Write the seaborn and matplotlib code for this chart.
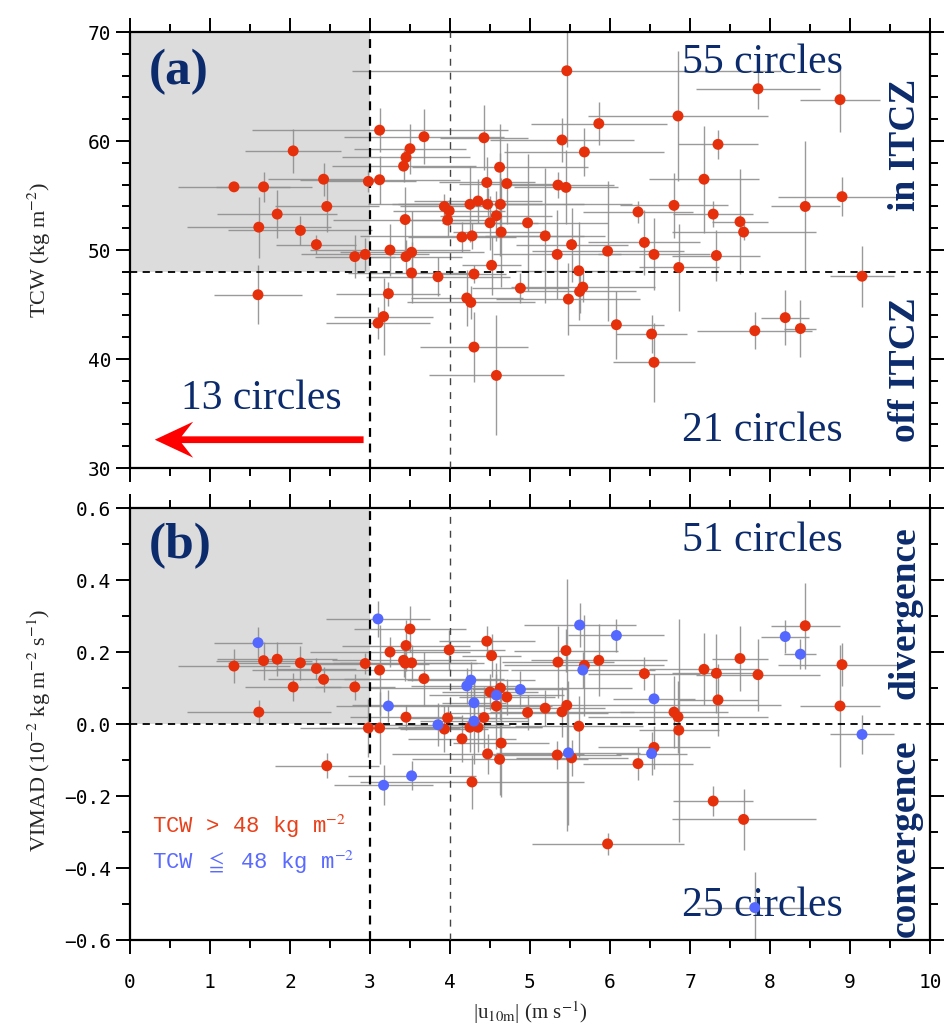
import numpy as np
import pandas as pd
import matplotlib
matplotlib.use("Agg")
import matplotlib.pyplot as plt
import seaborn as sns
from matplotlib.ticker import MultipleLocator, FuncFormatter

# ---------------- data (one entry per circle, shared by both panels) ----------------
u10 = [1.30, 1.67, 1.61, 2.04, 1.84, 2.13, 2.33, 2.42, 2.46, 2.81, 2.94, 2.98, 1.60,
       3.12, 3.675, 4.425, 5.86, 5.40, 5.68, 3.50, 3.45, 3.42, 4.62, 3.12, 4.46, 4.71,
       5.35, 5.45, 3.93, 3.99, 4.25, 4.35, 4.47, 4.63, 4.58, 4.50, 3.97, 3.44, 4.97,
       6.35, 4.64, 4.15, 4.275, 5.19, 5.52, 5.34, 5.97, 6.43, 6.55, 3.25, 3.52, 3.45,
       4.52, 5.61, 5.46, 7.85, 8.875, 6.85, 7.35, 7.175, 8.90, 8.44, 6.80, 7.29, 7.625,
       7.67, 7.33, 6.86,
       3.52, 3.85, 4.30, 4.88, 3.23, 4.21, 4.26, 5.48, 5.66, 5.62, 3.17, 3.10, 6.08,
       6.52, 4.30, 9.15, 6.55, 7.81, 8.19, 8.38, 4.58]
u10_err = [0.70, 0.60, 0.90, 0.60, 0.75, 0.90, 0.50, 0.70, 0.65, 0.50, 0.80, 0.60, 0.55,
           1.60, 1.00, 0.55, 0.85, 0.90, 1.00, 0.70, 0.80, 0.90, 1.10, 1.00, 0.60, 0.60,
           0.70, 0.65, 0.55, 0.70, 0.90, 0.80, 1.20, 1.65, 0.70, 0.60, 0.60, 0.90, 1.00,
           0.69, 0.60, 0.68, 1.40, 0.75, 0.70, 0.80, 0.95, 0.70, 0.70, 1.00, 0.90, 0.70,
           0.37, 0.80, 2.68, 0.78, 0.50, 1.13, 0.50, 0.69, 0.80, 0.43, 0.68, 0.50, 0.35,
           0.90, 0.55, 0.50,
           0.80, 0.90, 0.40, 0.60, 0.65, 0.70, 0.80, 0.90, 0.90, 0.70, 0.62, 0.65, 0.60,
           0.44, 0.67, 0.40, 0.51, 0.72, 0.30, 0.20, 0.84]
tcw = [55.8, 55.8, 52.1, 59.1, 53.3, 51.8, 50.5, 56.5, 54.0, 49.4, 49.6, 56.3, 45.9,
       61.0, 60.4, 60.3, 61.6, 60.1, 59.0, 59.3, 58.5, 57.7, 57.6, 56.45, 56.2, 56.1,
       55.96, 55.75, 54.0, 53.6, 54.2, 54.5, 54.2, 54.2, 53.15, 52.5, 52.75, 52.8, 52.5,
       53.5, 51.65, 51.2, 51.3, 51.3, 50.5, 49.6, 49.9, 50.7, 49.6, 50.0, 49.8, 49.4,
       48.6, 48.1, 66.45, 64.8, 63.8, 62.3, 59.7, 56.5, 54.9, 54.0, 54.1, 53.3, 52.6,
       51.65, 49.5, 48.4,
       47.9, 47.55, 47.8, 46.5, 46.0, 45.6, 45.2, 45.5, 46.6, 46.2, 43.9, 43.3, 43.15,
       42.3, 41.1, 47.6, 39.7, 42.6, 43.8, 42.8, 38.5]
tcw_err = [0.4, 1.4, 2.8, 2.0, 2.2, 1.3, 0.9, 1.5, 2.3, 2.0, 1.5, 1.0, 2.7,
           2.0, 2.5, 3.0, 2.0, 2.0, 2.2, 2.3, 1.0, 1.5, 4.0, 2.2, 2.3, 3.7,
           1.2, 3.4, 1.1, 1.0, 3.5, 2.0, 1.5, 4.7, 2.3, 2.5, 1.5, 3.0, 6.3,
           1.0, 5.0, 1.4, 1.2, 6.2, 3.4, 4.1, 6.4, 3.0, 3.3, 2.4, 3.8, 1.5,
           2.7, 4.5, 7.0, 1.9, 3.0, 6.0, 1.3, 4.9, 1.8, 6.0, 3.0, 1.2, 4.8,
           0.7, 2.3, 4.0,
           2.8, 1.8, 0.8, 1.4, 1.1, 2.6, 1.5, 3.3, 1.4, 2.0, 3.5, 1.5, 3.1,
           1.7, 3.2, 2.8, 3.6, 1.7, 2.5, 2.6, 5.5]
vimad = [0.161, 0.176, 0.033, 0.103, 0.180, 0.170, 0.154, 0.124, -0.116, 0.103, 0.168, -0.011, 0.226,
         0.150, 0.126, 0.018, 0.177, 0.034, 0.163, 0.264, 0.218, 0.177, -0.098, -0.011, 0.230, 0.075,
         0.172, 0.204, -0.014, 0.206, -0.009, -0.009, -0.083, 0.100, 0.050, 0.089, 0.017, 0.169, 0.032,
         -0.110, -0.053, -0.041, -0.161, 0.044, -0.094, -0.086, -0.333, 0.140, -0.065, 0.200, 0.170, 0.019,
         0.190, -0.006, 0.052, 0.137, 0.050, 0.020, 0.067, 0.152, 0.165, 0.273, 0.033, -0.214, 0.182,
         -0.265, 0.141, -0.017,
         -0.144, -0.002, 0.059, 0.096, 0.050, 0.106, 0.122, -0.080, 0.150, 0.275, -0.170, 0.292, 0.246,
         -0.082, 0.008, -0.029, 0.070, -0.510, 0.243, 0.194, 0.080]
vimad_err = [0.048, 0.053, 0.034, 0.040, 0.047, 0.048, 0.030, 0.035, 0.035, 0.037, 0.030, 0.080, 0.043,
             0.125, 0.075, 0.085, 0.100, 0.070, 0.140, 0.065, 0.070, 0.045, 0.100, 0.100, 0.042, 0.050,
             0.100, 0.060, 0.065, 0.055, 0.070, 0.070, 0.055, 0.090, 0.120, 0.050, 0.035, 0.050, 0.050,
             0.045, 0.150, 0.065, 0.075, 0.050, 0.050, 0.040, 0.030, 0.046, 0.060, 0.042, 0.050, 0.035,
             0.060, 0.085, 0.350, 0.100, 0.170, 0.100, 0.100, 0.100, 0.060, 0.120, 0.100, 0.042, 0.090,
             0.085, 0.110, 0.310,
             0.040, 0.060, 0.060, 0.050, 0.045, 0.050, 0.050, 0.200, 0.050, 0.060, 0.055, 0.050, 0.046,
             0.060, 0.120, 0.053, 0.070, 0.100, 0.046, 0.042, 0.060]

TCW_CUT = 48
U_CUT = 3
top_counts = ["55 circles", "21 circles", "13 circles"]
bottom_counts = ["51 circles", "25 circles"]

# ---------------- styling ----------------
RED = "#e6300c"
BLUE = "#5468ff"
NAVY = "#0b2b6c"
ERR = "#8f8f8f"

df = pd.DataFrame(dict(u10=u10, u10_err=u10_err, tcw=tcw, tcw_err=tcw_err,
                       vimad=vimad, vimad_err=vimad_err))
df["group"] = np.where(df["tcw"] > TCW_CUT, "high", "low")

sns.set_theme(style="ticks")
plt.rcParams["font.family"] = ["DejaVu Sans"]
plt.rcParams["mathtext.fontset"] = "stix"
plt.rcParams["axes.edgecolor"] = "black"
plt.rcParams["xtick.color"] = "black"
plt.rcParams["ytick.color"] = "black"

fig = plt.figure(figsize=(9.46, 10.28), dpi=100)
ax1 = fig.add_axes([0.1374, 0.5447, 0.8457, 0.4241])
ax2 = fig.add_axes([0.1374, 0.0856, 0.8457, 0.4202])

SERIF = ["Liberation Serif", "DejaVu Serif"]
MONO = ["DejaVu Sans Mono", "DejaVu Sans"]


def style_axes(ax):
    for s in ax.spines.values():
        s.set_linewidth(1.6)
        s.set_color("black")
    ax.xaxis.set_major_locator(MultipleLocator(1))
    ax.xaxis.set_minor_locator(MultipleLocator(0.5))
    ax.tick_params(which="both", direction="out", top=True, right=True,
                   width=1.4, colors="black")
    ax.tick_params(which="major", length=10)
    ax.tick_params(which="minor", length=5.5)
    for lab in ax.get_xticklabels() + ax.get_yticklabels():
        lab.set_family(MONO)
    ax.grid(False)


# ---------------- panel (a) ----------------
ax1.set_xlim(0, 10)
ax1.set_ylim(30, 70)
ax1.fill_between([0, U_CUT], TCW_CUT, 70, color="#dcdcdc", lw=0, zorder=0)
ax1.errorbar(df["u10"], df["tcw"], xerr=df["u10_err"], yerr=df["tcw_err"],
             fmt="none", ecolor=ERR, elinewidth=1.0, capsize=0, zorder=2, alpha=0.9)
ax1.axvline(U_CUT, color="black", ls=(0, (4, 3)), lw=1.6, zorder=3)
ax1.axvline(4, color="#444444", ls=(0, (5, 5)), lw=1.0, zorder=3)
ax1.axhline(TCW_CUT, color="black", ls=(0, (4, 3)), lw=1.3, zorder=3)
sns.scatterplot(data=df, x="u10", y="tcw", color=RED, s=62, edgecolor="none",
                ax=ax1, zorder=5, legend=False)
ax1.yaxis.set_major_locator(MultipleLocator(10))
ax1.yaxis.set_minor_locator(MultipleLocator(2))
ax1.yaxis.set_major_formatter(FuncFormatter(lambda v, p: f"{v:.0f}"))
style_axes(ax1)
ax1.tick_params(labelbottom=False)
ax1.set_xlabel("")
ax1.set_ylabel("TCW (kg m$^{-2}$)", family=SERIF, fontsize=16)
ax1.yaxis.set_label_coords(-0.096, 0.5)
for lab in ax1.get_yticklabels():
    lab.set_fontsize(14)

ax1.text(0.024, 0.962, "(a)", transform=ax1.transAxes, family=SERIF, fontsize=37,
         fontweight="bold", color=NAVY, ha="left", va="top")
ax1.text(0.79, 0.93, top_counts[0], transform=ax1.transAxes, family=SERIF, fontsize=30,
         color=NAVY, ha="center", va="center")
ax1.text(0.79, 0.085, top_counts[1], transform=ax1.transAxes, family=SERIF, fontsize=30,
         color=NAVY, ha="center", va="center")
ax1.text(0.164, 0.158, top_counts[2], transform=ax1.transAxes, family=SERIF, fontsize=30,
         color=NAVY, ha="center", va="center")
ax1.text(0.969, 0.741, "in ITCZ", transform=ax1.transAxes, family=SERIF, fontsize=27,
         fontweight="bold", color=NAVY, rotation=90, ha="center", va="center")
ax1.text(0.969, 0.225, "off ITCZ", transform=ax1.transAxes, family=SERIF, fontsize=27,
         fontweight="bold", color=NAVY, rotation=90, ha="center", va="center")
ax1.arrow(2.92, 32.6, -2.61, 0, width=0.62, head_width=3.3, head_length=0.48,
          overhang=0.3, length_includes_head=True, color="#ff0000", lw=0, zorder=6)

# ---------------- panel (b) ----------------
ax2.set_xlim(0, 10)
ax2.set_ylim(-0.6, 0.6)
ax2.fill_between([0, U_CUT], 0, 0.6, color="#dcdcdc", lw=0, zorder=0)
ax2.errorbar(df["u10"], df["vimad"], xerr=df["u10_err"], yerr=df["vimad_err"],
             fmt="none", ecolor=ERR, elinewidth=1.0, capsize=0, zorder=2, alpha=0.9)
ax2.axvline(U_CUT, color="black", ls=(0, (4, 3)), lw=1.6, zorder=3)
ax2.axvline(4, color="#444444", ls=(0, (5, 5)), lw=1.0, zorder=3)
ax2.axhline(0, color="black", ls=(0, (4, 3)), lw=1.3, zorder=3)
sns.scatterplot(data=df, x="u10", y="vimad", hue="group",
                palette={"high": RED, "low": BLUE}, s=62, edgecolor="none",
                ax=ax2, zorder=5, legend=False)
ax2.yaxis.set_major_locator(MultipleLocator(0.2))
ax2.yaxis.set_minor_locator(MultipleLocator(0.1))
ax2.yaxis.set_major_formatter(FuncFormatter(lambda v, p: f"{v:.1f}".replace("-", "\u2212")))
ax2.xaxis.set_major_formatter(FuncFormatter(lambda v, p: f"{v:.0f}"))
style_axes(ax2)
ax2.tick_params(axis="x", which="major", pad=14)
for lab in ax2.get_yticklabels() + ax2.get_xticklabels():
    lab.set_fontsize(14)
ax2.set_ylabel("VIMAD (10$^{-2}$ kg m$^{-2}$ s$^{-1}$)", family=SERIF, fontsize=16)
ax2.yaxis.set_label_coords(-0.096, 0.486)
ax2.set_xlabel("|u$_{\\rm 10m}$| (m s$^{-1}$)", family=SERIF, fontsize=15)
ax2.xaxis.set_label_coords(0.5, -0.138)

ax2.text(0.024, 0.966, "(b)", transform=ax2.transAxes, family=SERIF, fontsize=37,
         fontweight="bold", color=NAVY, ha="left", va="top")
ax2.text(0.79, 0.924, bottom_counts[0], transform=ax2.transAxes, family=SERIF, fontsize=30,
         color=NAVY, ha="center", va="center")
ax2.text(0.79, 0.079, bottom_counts[1], transform=ax2.transAxes, family=SERIF, fontsize=30,
         color=NAVY, ha="center", va="center")
ax2.text(0.969, 0.757, "divergence", transform=ax2.transAxes, family=SERIF, fontsize=27,
         fontweight="bold", color=NAVY, rotation=90, ha="center", va="center")
ax2.text(0.969, 0.236, "convergence", transform=ax2.transAxes, family=SERIF, fontsize=27,
         fontweight="bold", color=NAVY, rotation=90, ha="center", va="center")
LEG_FONT = ["Liberation Mono", "DejaVu Sans Mono", "DejaVu Sans"]
ax2.text(0.027, 0.248, "TCW > 48 kg m$^{-2}$", transform=ax2.transAxes, family=LEG_FONT,
         fontsize=16, color="#e8401a", ha="left", va="baseline")
ax2.text(0.027, 0.164, "TCW $\\leqq$ 48 kg m$^{-2}$", transform=ax2.transAxes, family=LEG_FONT,
         fontsize=16, color="#5a6aff", ha="left", va="baseline")

fig.savefig("out.png", dpi=100)
